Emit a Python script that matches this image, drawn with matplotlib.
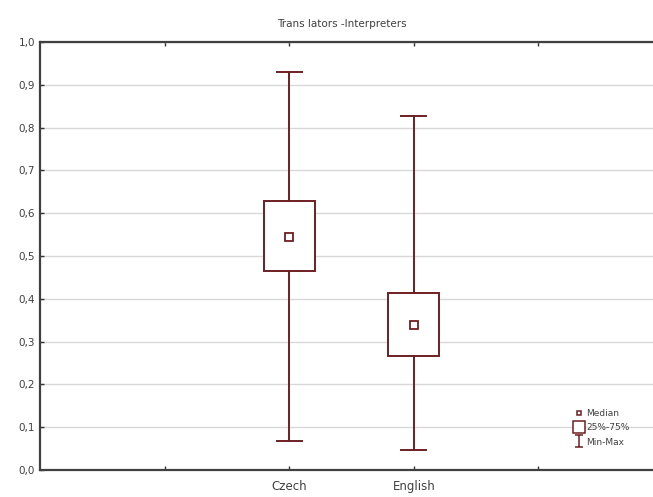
import matplotlib.pyplot as plt
from matplotlib.lines import Line2D
from matplotlib.path import Path

# values
groups = ['Czech', 'English']
positions = [2, 3]
medians = [0.545, 0.339]
q1 = [0.466, 0.267]
q3 = [0.629, 0.414]
mins = [0.068, 0.047]
maxs = [0.930, 0.828]

col = '#6e1f22'
txt = '#404040'

plt.rcParams['font.family'] = 'DejaVu Sans'
plt.rcParams['font.size'] = 7

fig = plt.figure(figsize=(6.53, 4.97), dpi=100)
ax = fig.add_axes([40 / 653, 27 / 497, 1 - 40 / 653, 428 / 497])

stats = []
for i in range(len(groups)):
    stats.append({'med': medians[i], 'q1': q1[i], 'q3': q3[i],
                  'whislo': mins[i], 'whishi': maxs[i], 'label': groups[i]})

ax.bxp(stats, positions=positions, widths=0.41, capwidths=0.2,
       showfliers=False, patch_artist=True,
       boxprops=dict(facecolor='white', edgecolor=col, linewidth=1.4),
       whiskerprops=dict(color=col, linewidth=1.4),
       capprops=dict(color=col, linewidth=1.4),
       medianprops=dict(linestyle='none'), zorder=3)
ax.plot(positions, medians, 's', ms=6, mfc='white', mec=col, mew=1.3, ls='', zorder=4)

ax.set_xlim(0, 4.92)
ax.set_ylim(0, 1.0)
ax.set_xticks([1, 2, 3, 4])
ax.set_xticklabels(['', 'Czech', 'English', ''], fontsize=8.5, color=txt)
yt = [i / 10 for i in range(11)]
ax.set_yticks(yt)
ax.set_yticklabels([f'{v:.1f}'.replace('.', ',') for v in yt], fontsize=7.5, color=txt)
ax.tick_params(axis='both', direction='in', length=3, width=1, colors='#333333',
               top=True, labelcolor=txt)
ax.tick_params(axis='x', pad=7)
ax.grid(axis='y', color='#d8d8d8', linewidth=1)
ax.set_axisbelow(True)
for s in ['left', 'bottom', 'top']:
    ax.spines[s].set_color('#404040')
    ax.spines[s].set_linewidth(1.6)
ax.spines['right'].set_visible(False)

fig.text(0.523, 0.952, 'Trans lators -Interpreters', ha='center', va='center',
         fontsize=7.5, color=txt)

# legend markers
ibar = Path([(-0.6, 1), (0.6, 1), (0, 1), (0, -1), (-0.6, -1), (0.6, -1)],
            [Path.MOVETO, Path.LINETO, Path.MOVETO, Path.LINETO, Path.MOVETO, Path.LINETO])
handles = [
    Line2D([], [], marker='s', ms=3.5, mfc='white', mec=col, mew=1.1, ls=''),
    Line2D([], [], marker='s', ms=8, mfc='white', mec=col, mew=1.1, ls=''),
    Line2D([], [], marker=ibar, ms=9, mec=col, color=col, mew=1.1, ls=''),
]
ax.legend(handles, ['Median', '25%-75%', 'Min-Max'], loc='lower right',
          bbox_to_anchor=(0.972, 0.04), frameon=False, fontsize=6.5,
          handlelength=1.0, handletextpad=0.3, labelspacing=0.6,
          borderpad=0.2, labelcolor=txt)

fig.savefig('out.png', dpi=100)
